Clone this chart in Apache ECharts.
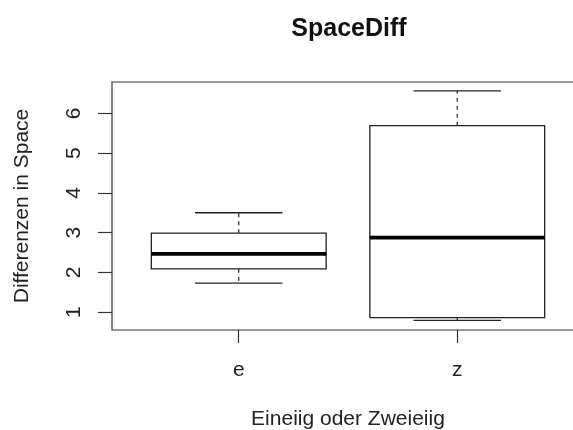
<!DOCTYPE html>
<html>
<head>
<meta charset="utf-8">
<script src="https://cdn.jsdelivr.net/npm/echarts@6/dist/echarts.min.js"></script>
<style>html,body{margin:0;padding:0;background:#fff;}#c{width:573px;height:430px;}</style>
</head>
<body>
<div id="c"></div>
<script>
// Data
const categories = ['e', 'z'];
const whiskerLow = [1.73, 0.79];
const q1 = [2.09, 0.86];
const median = [2.465, 2.875];
const q3 = [2.985, 5.69];
const whiskerHigh = [3.50, 6.565];
const yTicks = [1, 2, 3, 4, 5, 6];

const FONT = 'Liberation Sans, Arial, Helvetica, sans-serif';
const boxData = categories.map((c, i) => [i + 1, whiskerLow[i], q1[i], median[i], q3[i], whiskerHigh[i]]);

const chart = echarts.init(document.getElementById('c'), null, {renderer: 'canvas'});
chart.setOption({
  animation: false,
  backgroundColor: '#fff',
  title: {
    text: 'SpaceDiff',
    left: 349, top: 17, padding: 0,
    textAlign: 'center',
    textStyle: {fontFamily: FONT, fontSize: 25, fontWeight: 'bold', color: '#111'}
  },
  grid: {left: 112, top: 82, width: 472, height: 248, show: true, borderColor: '#333', borderWidth: 1.2,
    backgroundColor: 'transparent', containLabel: false, outerBoundsMode: 'none'},
  xAxis: {
    type: 'value', min: 0.42, max: 2.58,
    name: 'Eineiig oder Zweieiig', nameLocation: 'middle', nameGap: 79,
    nameTextStyle: {fontFamily: FONT, fontSize: 21, color: '#222'},
    splitLine: {show: false},
    axisLine: {show: false},
    axisTick: {show: true, length: 13, customValues: categories.map((c, i) => i + 1), lineStyle: {color: '#333', width: 1.2}},
    axisLabel: {customValues: categories.map((c, i) => i + 1), margin: 30, fontFamily: FONT, fontSize: 21, color: '#222',
      formatter: v => categories[Math.round(v) - 1]}
  },
  yAxis: {
    type: 'value', min: 0.55, max: 6.79,
    name: 'Differenzen in Space', nameLocation: 'middle', nameGap: 79,
    nameTextStyle: {fontFamily: FONT, fontSize: 21, color: '#222'},
    splitLine: {show: false},
    axisLine: {show: false},
    axisTick: {show: true, length: 14, customValues: yTicks, lineStyle: {color: '#333', width: 1.2}},
    axisLabel: {customValues: yTicks, rotate: 90, margin: 27, fontFamily: FONT, fontSize: 21, color: '#222'}
  },
  series: [{
    type: 'custom',
    data: boxData,
    encode: {x: 0, y: [1, 2, 3, 4, 5]},
    renderItem: function (params, api) {
      const x = api.value(0);
      const lo = api.value(1), a = api.value(2), m = api.value(3), b = api.value(4), hi = api.value(5);
      const hw = 0.4, sw = 0.2;
      const tl = api.coord([x - hw, b]);
      const br = api.coord([x + hw, a]);
      const c = '#222';
      const line = (p1, p2, style) => ({type: 'line', shape: {x1: p1[0], y1: p1[1], x2: p2[0], y2: p2[1]}, style: style});
      return {
        type: 'group',
        children: [
          line(api.coord([x, b]), api.coord([x, hi]), {stroke: c, lineWidth: 1.2, lineDash: [4, 4]}),
          line(api.coord([x, a]), api.coord([x, lo]), {stroke: c, lineWidth: 1.2, lineDash: [4, 4]}),
          line(api.coord([x - sw, hi]), api.coord([x + sw, hi]), {stroke: c, lineWidth: 1.3}),
          line(api.coord([x - sw, lo]), api.coord([x + sw, lo]), {stroke: c, lineWidth: 1.3}),
          {type: 'rect', shape: {x: tl[0], y: tl[1], width: br[0] - tl[0], height: br[1] - tl[1]},
            style: {fill: '#fff', stroke: c, lineWidth: 1.3}},
          line(api.coord([x - hw, m]), api.coord([x + hw, m]), {stroke: '#000', lineWidth: 3.6})
        ]
      };
    }
  }]
});
</script>
</body>
</html>
